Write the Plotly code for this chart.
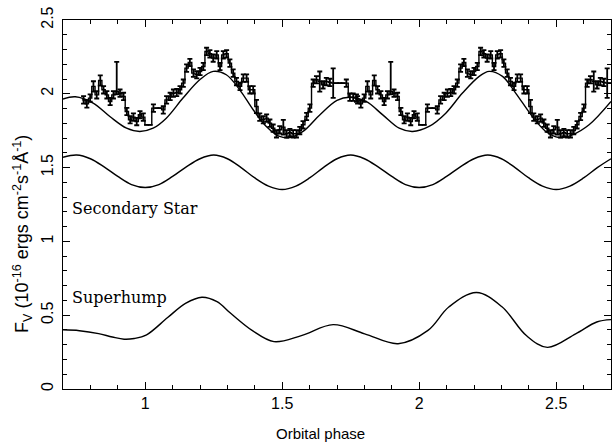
import plotly.graph_objects as go

# ---- observed light curve: one folded cycle (bin left edges, flux, errors) ----
cycle_phase = [0.769, 0.781, 0.793, 0.805, 0.817, 0.830, 0.842, 0.854, 0.866, 0.878,
               0.890, 0.902, 0.915, 0.927, 0.939, 0.951, 0.963, 0.975, 0.987, 0.999,
               1.012, 1.024, 1.036, 1.048, 1.060, 1.072, 1.085, 1.097, 1.109, 1.121,
               1.133, 1.145, 1.157, 1.170, 1.182, 1.194, 1.206, 1.218, 1.230, 1.242,
               1.255, 1.267, 1.279, 1.291, 1.303, 1.315, 1.327, 1.340, 1.352, 1.364,
               1.376, 1.388, 1.400, 1.412, 1.425, 1.437, 1.449, 1.461, 1.473, 1.485,
               1.498, 1.510, 1.522, 1.534, 1.546, 1.558, 1.570, 1.583, 1.595, 1.607,
               1.619, 1.631, 1.643, 1.655, 1.668, 1.680, 1.692, 1.704, 1.716, 1.728,
               1.741, 1.753, 1.765]
cycle_flux = [1.959, 1.932, 1.971, 2.050, 1.993, 2.090, 2.027, 1.993, 1.948, 1.993,
              2.016, 2.004, 1.982, 1.880, 1.824, 1.842, 1.812, 1.858, 1.842, 1.790,
              1.790, 1.903, 1.903, 1.903, 1.891, 1.959, 1.982, 2.004, 2.009, 2.027,
              2.072, 2.174, 2.212, 2.140, 2.129, 2.151, 2.185, 2.287, 2.271, 2.242,
              2.264, 2.185, 2.264, 2.271, 2.208, 2.140, 2.083, 2.050, 2.106, 2.106,
              2.027, 2.027, 1.914, 1.842, 1.824, 1.835, 1.801, 1.767, 1.729, 1.756,
              1.774, 1.729, 1.738, 1.729, 1.729, 1.751, 1.790, 1.846, 1.903, 2.072,
              2.095, 2.083, 2.061, 2.083, 2.077, 2.072, 2.072, 2.072, 2.072, 2.072,
              1.977, 1.977, 1.971]
cycle_err_plus = [0.025, 0.025, 0.025, 0.035, 0.025, 0.035, 0.025, 0.025, 0.025, 0.025,
                  0.200, 0.025, 0.025, 0.025, 0.025, 0.025, 0.025, 0.025, 0.025, 0.0,
                  0.0, 0.025, 0.0, 0.0, 0.025, 0.025, 0.025, 0.025, 0.025, 0.025,
                  0.025, 0.025, 0.025, 0.025, 0.025, 0.025, 0.025, 0.025, 0.025, 0.025,
                  0.025, 0.025, 0.025, 0.025, 0.025, 0.025, 0.025, 0.025, 0.025, 0.025,
                  0.025, 0.025, 0.045, 0.025, 0.025, 0.025, 0.025, 0.025, 0.025, 0.025,
                  0.050, 0.025, 0.025, 0.025, 0.025, 0.025, 0.025, 0.025, 0.025, 0.025,
                  0.025, 0.068, 0.025, 0.025, 0.025, 0.100, 0.0, 0.0, 0.0, 0.025,
                  0.025, 0.025, 0.025]
cycle_err_minus = [e if e <= 0.1 else 0.02 for e in cycle_err_plus]
bin_width = 0.01215
cycle_offsets = [0, 1]   # the folded cycle is plotted twice

# ---- model curves (phase, flux) ----
model_phase = [0.700, 0.745, 0.810, 0.871, 0.932, 0.980, 1.029, 1.077, 1.138, 1.199,
               1.248, 1.296, 1.345, 1.394, 1.442, 1.491, 1.527, 1.576, 1.637, 1.700,
               1.745, 1.806, 1.867, 1.927, 1.976, 2.036, 2.097, 2.158, 2.219, 2.255,
               2.304, 2.352, 2.413, 2.462, 2.510, 2.559, 2.620, 2.700]
model_flux = [1.965, 1.980, 1.937, 1.846, 1.767, 1.745, 1.767, 1.835, 1.971, 2.095,
              2.152, 2.129, 2.027, 1.892, 1.779, 1.711, 1.704, 1.745, 1.857, 1.955,
              1.977, 1.948, 1.857, 1.767, 1.745, 1.779, 1.869, 2.005, 2.118, 2.152,
              2.118, 2.005, 1.846, 1.745, 1.704, 1.722, 1.790, 1.948]

sec_phase = [0.70, 0.75, 0.80, 0.85, 0.90, 0.95, 1.00, 1.05, 1.10, 1.15,
             1.20, 1.25, 1.30, 1.35, 1.40, 1.45, 1.50, 1.55, 1.60, 1.65,
             1.70, 1.75, 1.80, 1.85, 1.90, 1.95, 2.00, 2.05, 2.10, 2.15,
             2.20, 2.25, 2.30, 2.35, 2.40, 2.45, 2.50, 2.55, 2.60, 2.65, 2.70]
sec_flux = [1.570, 1.585, 1.560, 1.505, 1.440, 1.385, 1.365, 1.385, 1.440, 1.505,
            1.560, 1.585, 1.560, 1.500, 1.430, 1.375, 1.352, 1.375, 1.430, 1.500,
            1.560, 1.585, 1.560, 1.505, 1.440, 1.385, 1.365, 1.385, 1.440, 1.505,
            1.560, 1.585, 1.560, 1.500, 1.430, 1.375, 1.352, 1.375, 1.430, 1.500, 1.560]

sh_phase = [0.700, 0.760, 0.830, 0.880, 0.923, 0.960, 1.005, 1.082, 1.147, 1.207,
            1.262, 1.313, 1.390, 1.470, 1.570, 1.686, 1.801, 1.923, 2.032, 2.109,
            2.209, 2.302, 2.391, 2.468, 2.571, 2.648, 2.700]
sh_flux = [0.401, 0.395, 0.375, 0.352, 0.337, 0.342, 0.367, 0.484, 0.580, 0.622,
           0.592, 0.511, 0.397, 0.321, 0.362, 0.436, 0.374, 0.307, 0.397, 0.557,
           0.654, 0.557, 0.362, 0.282, 0.374, 0.454, 0.470]

labels = ["Secondary Star", "Superhump"]
label_pos = [(0.725, 1.22), (0.725, 0.617)]
x_title = "Orbital phase"
y_title = "F<sub>V</sub> (10<sup>-16</sup> ergs cm<sup>-2</sup>s<sup>-1</sup>Å<sup>-1</sup>)"

# ---- build traces ----
step_x, step_y, eb_x, eb_y, eb_p, eb_m = [], [], [], [], [], []
for off in cycle_offsets:
    for p, f, ep, em in zip(cycle_phase, cycle_flux, cycle_err_plus, cycle_err_minus):
        step_x.append(p + off)
        step_y.append(f)
        eb_x.append(p + off + bin_width / 2)
        eb_y.append(f)
        eb_p.append(ep)
        eb_m.append(em)
step_x.append(cycle_phase[-1] + cycle_offsets[-1] + bin_width)
step_y.append(cycle_flux[-1])

fig = go.Figure()
fig.add_trace(go.Scatter(x=step_x, y=step_y, mode="lines", line=dict(color="black", width=1.4, shape="hv"),
                         hoverinfo="skip"))
fig.add_trace(go.Scatter(x=eb_x, y=eb_y, mode="markers", marker=dict(size=0.1, color="black"),
                         error_y=dict(type="data", symmetric=False, array=eb_p, arrayminus=eb_m,
                                      color="black", thickness=1.8, width=2.5)))
for xs, ys in [(model_phase, model_flux), (sec_phase, sec_flux), (sh_phase, sh_flux)]:
    fig.add_trace(go.Scatter(x=xs, y=ys, mode="lines",
                             line=dict(color="black", width=1.4, shape="spline", smoothing=1.0)))
# invisible trace to activate mirrored axes (top / right) that carry the minor ticks
fig.add_trace(go.Scatter(x=[1.0], y=[1.0], xaxis="x2", yaxis="y2", mode="markers",
                         marker=dict(size=0.1, opacity=0), hoverinfo="skip"))

for txt, (lx, ly) in zip(labels, label_pos):
    fig.add_annotation(x=lx, y=ly, text=txt, showarrow=False, xanchor="left", yanchor="middle",
                       font=dict(family="DejaVu Serif", size=16, color="black"))

fig.add_annotation(xref="paper", yref="paper", x=0.469, y=-0.12, yanchor="middle", xanchor="center",
                   text=x_title, showarrow=False,
                   font=dict(family="Liberation Sans", size=15, color="black"))
fig.add_annotation(xref="paper", yref="paper", x=-0.075, y=0.42, xanchor="center", yanchor="middle",
                   text=y_title, textangle=-90, showarrow=False,
                   font=dict(family="Liberation Sans", size=18, color="black"))

tickfont = dict(family="Liberation Sans", size=16, color="black")
minor = dict(ticks="inside", ticklen=4, tickcolor="black", tickwidth=1, showgrid=False, dtick=0.1)
common = dict(showline=True, linecolor="black", linewidth=1, ticks="inside", ticklen=7,
              tickcolor="black", tickwidth=1, showgrid=False, zeroline=False)

fig.update_layout(
    width=612, height=445, margin=dict(l=63, r=1, t=20, b=56),
    plot_bgcolor="white", paper_bgcolor="white", showlegend=False,
    xaxis=dict(range=[0.7, 2.7], tick0=0, dtick=0.5, tickfont=tickfont, minor=minor, **common),
    yaxis=dict(range=[0, 2.5], tick0=0, dtick=0.5, tickangle=-90, tickfont=tickfont, minor=minor,
               ticklabelstandoff=3, **common),
    xaxis2=dict(range=[0.7, 2.7], tick0=0, dtick=0.5, overlaying="x", side="top", anchor="y",
                showticklabels=False, minor=minor, **common),
    yaxis2=dict(range=[0, 2.5], tick0=0, dtick=0.5, overlaying="y", side="right", anchor="x",
                showticklabels=False, minor=minor, **common),
)

fig.write_html("out.html")
